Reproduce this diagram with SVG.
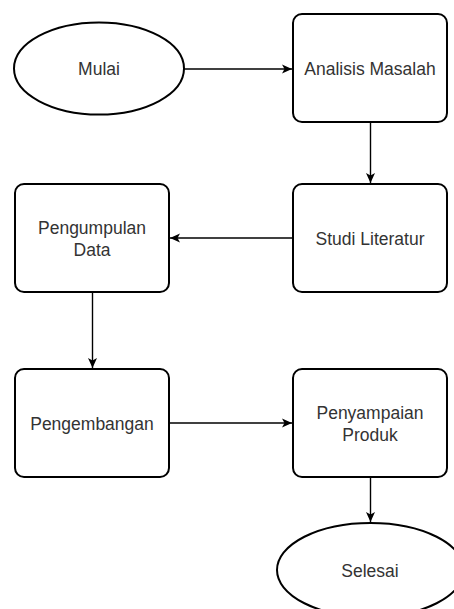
<svg xmlns="http://www.w3.org/2000/svg" width="454" height="609" viewBox="0 0 454 609">
<defs>
<style>
.n{fill:#fff;stroke:#000;stroke-width:2}
.t{font-family:"Liberation Sans",Arial,sans-serif;font-size:17.5px;fill:#333;text-anchor:middle}
.c{stroke:#000;stroke-width:1.4;fill:none;marker-end:url(#ah)}
</style>
<marker id="ah" markerUnits="userSpaceOnUse" markerWidth="12" markerHeight="10" refX="10" refY="5" orient="auto">
<path d="M0,0.5 L10,5 L0,9.5 L2.5,5 Z" fill="#000"/>
</marker>
</defs>
<rect width="454" height="609" fill="#fff"/>
<g id="connectors">
<path class="c" d="M184,69 L292,69"/>
<path class="c" d="M370.5,122 L370.5,183"/>
<path class="c" d="M293,238 L170,238"/>
<path class="c" d="M92.5,292 L92.5,368"/>
<path class="c" d="M169,423 L292,423"/>
<path class="c" d="M370.5,477 L370.5,522"/>
</g>
<g id="mulai">
<ellipse class="n" cx="99" cy="68.5" rx="85" ry="46"/>
<text class="t" x="99" y="75">Mulai</text>
</g>
<g id="analisis">
<rect class="n" x="293" y="14" width="154" height="108" rx="9"/>
<text class="t" x="370" y="75">Analisis Masalah</text>
</g>
<g id="studi">
<rect class="n" x="293" y="184" width="154" height="108" rx="9"/>
<text class="t" x="370" y="245">Studi Literatur</text>
</g>
<g id="pengumpulan">
<rect class="n" x="15" y="184" width="154" height="108" rx="9"/>
<text class="t" x="92" y="234">Pengumpulan</text>
<text class="t" x="92" y="256">Data</text>
</g>
<g id="pengembangan">
<rect class="n" x="15" y="369" width="154" height="108" rx="9"/>
<text class="t" x="92" y="430">Pengembangan</text>
</g>
<g id="penyampaian">
<rect class="n" x="293" y="369" width="154" height="108" rx="9"/>
<text class="t" x="370" y="419">Penyampaian</text>
<text class="t" x="370" y="441">Produk</text>
</g>
<g id="selesai">
<ellipse class="n" cx="370.5" cy="570" rx="93.5" ry="47"/>
<text class="t" x="370" y="577">Selesai</text>
</g>
</svg>
